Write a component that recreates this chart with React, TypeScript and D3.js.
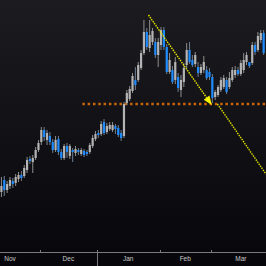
import React from "react";
import * as d3 from "d3";

// daily candles (index = trading day)
const opens = [6.8, 8.0, 7.0, 7.4, 7.9, 7.7, 8.1, 8.5, 8.4, 9.0, 10.1, 9.8, 10.2, 11.0, 11.8, 13.0, 12.0, 12.4, 11.8, 11.0,
  12.1, 10.8, 10.2, 11.4, 10.4, 11.0, 10.7, 11.0, 10.6, 10.9, 10.8, 10.8, 11.4, 12.1, 12.7, 12.6, 13.8, 12.8, 13.1, 13.0,
  13.4, 13.2, 12.7, 12.4, 15.7, 16.1, 16.9, 18.0, 18.0, 19.2, 20.7, 22.8, 21.2, 21.8, 21.8, 20.5, 21.5, 23.0, 21.3, 18.8,
  19.0, 18.0, 18.3, 17.0, 17.8, 19.5, 21.0, 20.0, 19.6, 19.3, 18.7, 19.0, 19.0, 18.8, 18.3, 16.3, 16.5, 17.0, 17.3, 18.0,
  17.3, 18.0, 18.5, 19.0, 18.6, 19.0, 19.8, 19.8, 19.7, 21.5, 21.0, 22.0, 22.7];
const highs = [8.3, 8.4, 7.9, 8.3, 8.2, 8.6, 8.8, 8.9, 9.5, 10.3, 10.4, 10.5, 11.3, 12.0, 13.3, 13.3, 13.0, 12.8, 12.1, 12.4,
  12.4, 11.1, 11.6, 11.7, 11.6, 11.2, 11.4, 11.2, 11.2, 11.1, 11.0, 11.7, 12.5, 12.9, 13.0, 13.9, 14.1, 13.7, 13.8, 13.8,
  13.6, 13.5, 13.0, 15.8, 17.0, 17.4, 18.7, 19.3, 19.8, 21.0, 24.0, 23.2, 24.0, 23.2, 22.2, 22.2, 23.3, 23.3, 21.6, 20.7,
  19.4, 20.3, 18.7, 18.5, 19.7, 21.7, 21.8, 20.5, 20.8, 19.8, 19.6, 20.4, 19.4, 19.2, 18.6, 17.0, 17.5, 18.3, 18.5, 18.3,
  18.8, 19.3, 19.4, 19.3, 20.0, 20.7, 20.8, 19.4, 21.8, 21.8, 22.8, 23.0, 23.0];
const lows = [6.3, 6.4, 6.7, 7.1, 7.2, 7.4, 7.8, 7.9, 8.2, 8.7, 9.6, 8.7, 10.0, 10.8, 11.5, 11.9, 11.5, 11.5, 10.7, 10.8,
  10.5, 10.0, 10.0, 10.2, 10.1, 9.8, 10.4, 10.5, 10.4, 10.3, 10.4, 10.6, 11.2, 11.9, 12.2, 12.4, 12.5, 12.6, 12.9, 12.8,
  12.6, 12.3, 11.9, 12.2, 15.5, 15.9, 16.7, 17.0, 17.8, 19.0, 20.5, 21.0, 20.8, 21.5, 20.2, 19.3, 21.0, 21.0, 18.6, 18.6,
  17.6, 17.6, 16.8, 16.3, 17.3, 19.2, 19.6, 19.3, 19.3, 18.3, 18.5, 18.7, 18.0, 18.0, 15.7, 16.0, 16.3, 16.8, 17.1, 16.6,
  17.1, 17.8, 18.2, 18.4, 18.4, 18.7, 19.5, 19.2, 19.5, 20.5, 20.8, 21.7, 20.5];
const closes = [7.4, 7.0, 7.6, 8.0, 7.6, 8.3, 8.5, 8.2, 9.2, 10.0, 9.9, 10.2, 11.0, 11.7, 13.0, 12.3, 12.7, 11.8, 11.0, 12.0,
  10.8, 10.2, 11.4, 10.8, 11.4, 10.8, 11.1, 10.8, 11.0, 10.5, 10.6, 11.5, 12.2, 12.6, 12.5, 13.6, 12.7, 13.4, 13.5, 13.5,
  13.1, 12.5, 12.2, 15.6, 16.7, 17.1, 18.4, 17.5, 19.5, 20.7, 22.8, 21.3, 22.5, 22.9, 20.5, 21.8, 23.0, 21.3, 18.8, 20.0,
  17.8, 19.8, 17.2, 18.0, 19.2, 21.0, 19.8, 19.5, 20.5, 18.7, 19.3, 19.8, 18.2, 18.3, 16.2, 16.8, 17.3, 18.0, 18.2, 16.8,
  18.2, 19.0, 19.0, 18.6, 19.7, 20.0, 20.5, 19.4, 21.5, 20.8, 22.4, 22.7, 20.7];

// month boundaries (trading-day index where each month starts)
const monthLabels = ["Nov", "Dec", "Jan", "Feb", "Mar"];
const monthStarts = [-7, 14, 34, 56, 74, 95];
const yearBoundary = 34;

// annotations
const supportLevel = 15.6;
const supportFrom = 28.4;
const trendStart = { i: 51.6, p: 24.5 };
const trendTip = { i: 73.8, p: 15.5 };
const trendTail = { i: 75.8, p: 15.6 };
const trendEnd = { i: 92.8, p: 8.6 };

const W = 266;
const H = 266;
const axisY = 252;

export default function App() {
  const x = d3.scaleLinear().domain([-0.5, 92.83]).range([0, W]);
  const y = d3.scaleLinear().domain([0, 26]).range([260, 0]);

  const candles = closes.map((c, i) => ({ i, o: opens[i], h: highs[i], l: lows[i], c }));

  // arrow head geometry from the trend line direction
  const tx = x(trendTip.i), ty = y(trendTip.p);
  const sx = x(trendStart.i), sy = y(trendStart.p);
  const ang = Math.atan2(ty - sy, tx - sx);
  const len = 9, half = 3.5;
  const bx = tx - len * Math.cos(ang), by = ty - len * Math.sin(ang);
  const head = [
    [tx, ty],
    [bx + half * Math.sin(ang), by - half * Math.cos(ang)],
    [bx - half * Math.sin(ang), by + half * Math.cos(ang)],
  ];

  return (
    <svg width={W} height={H} style={{ position: "absolute", left: 0, top: 0, display: "block" }}>
      <defs>
        <linearGradient id="bg" x1="0" y1="0" x2="0" y2="1">
          <stop offset="0" stopColor="#1c1c20" />
          <stop offset="1" stopColor="#07070b" />
        </linearGradient>
      </defs>
      <rect width={W} height={H} fill="url(#bg)" />

      {/* support level */}
      <line x1={x(supportFrom)} x2={W} y1={y(supportLevel)} y2={y(supportLevel)}
        stroke="#c8650a" strokeWidth={2.5} strokeDasharray="2.5 2.8" />

      {/* candles */}
      {candles.map((d) => {
        const up = d.c >= d.o;
        const cx = x(d.i);
        const top = y(Math.max(d.o, d.c));
        const bot = y(Math.min(d.o, d.c));
        return (
          <g key={d.i}>
            <line x1={cx} x2={cx} y1={y(d.h)} y2={y(d.l)} stroke={up ? "#8e8e8e" : "#6f7f90"} strokeWidth={1} />
            <rect x={cx - 1.1} width={2.2} y={top} height={Math.max(1, bot - top)}
              fill={up ? "#b4b4b4" : "#1e8cff"} />
          </g>
        );
      })}

      {/* trend line with arrow */}
      <line x1={sx} y1={sy} x2={bx} y2={by} stroke="#eaea00" strokeWidth={1.4} strokeDasharray="1.5 1" />
      <polygon points={head.map((p) => p.join(",")).join(" ")} fill="#f4f400" />
      <line x1={x(trendTail.i)} y1={y(trendTail.p)} x2={x(trendEnd.i)} y2={y(trendEnd.p)}
        stroke="#dede00" strokeWidth={1.4} strokeDasharray="1.5 1" />

      {/* x axis */}
      <line x1={0} x2={W} y1={axisY + 0.5} y2={axisY + 0.5} stroke="#7a7a7a" strokeWidth={1} />
      {monthStarts.slice(1, -1).map((s) => {
        const tx2 = Math.round(x(s - 0.5)) + 0.5;
        return (
          <line key={s} x1={tx2} x2={tx2} y1={axisY - 2} y2={s === yearBoundary ? H : axisY}
            stroke="#7a7a7a" strokeWidth={1} />
        );
      })}
      {monthLabels.map((m, k) => (
        <text key={m} x={x((monthStarts[k] + monthStarts[k + 1]) / 2 - 0.5)} y={axisY + 9}
          textAnchor="middle" fontFamily="Arial, 'Liberation Sans', sans-serif" fontSize={6.5} fill="#c8c8c8">
          {m}
        </text>
      ))}
    </svg>
  );
}
